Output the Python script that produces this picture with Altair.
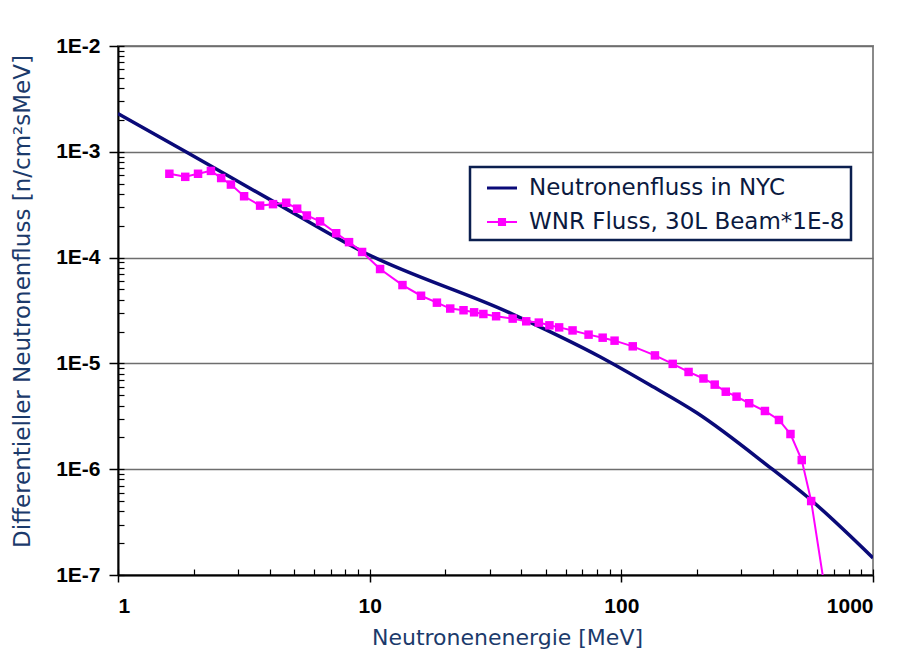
import altair as alt
import pandas as pd

NYC = "Neutronenfluss in NYC"
WNR = "WNR Fluss, 30L Beam*1E-8"

nyc_energy = [1, 1.86, 4.15, 9.42, 36.2, 82.6, 130, 200, 398, 549, 1000]
nyc_flux = [2.3e-3, 1.0e-3, 3.38e-4, 1.13e-4, 2.99e-5, 1.15e-5, 6.25e-6, 3.4e-6,
            1.0e-6, 5.46e-7, 1.45e-7]

wnr_energy = [1.6, 1.85, 2.08, 2.34, 2.57, 2.81, 3.17, 3.67, 4.13, 4.66,
              5.15, 5.63, 6.35, 7.36, 8.28, 9.33, 11.0, 13.5, 16.0, 18.5,
              20.9, 23.6, 26.0, 28.3, 31.8, 37.0, 41.9, 47.0, 51.8, 56.6,
              64.0, 74.1, 84.3, 94.0, 111, 136, 160, 185, 212, 235,
              260, 287, 322, 372, 423, 470, 521, 568, 660]
wnr_flux = [6.2e-4, 5.8e-4, 6.2e-4, 6.6e-4, 5.65e-4, 4.9e-4, 3.8e-4, 3.1e-4, 3.2e-4, 3.3e-4,
            2.9e-4, 2.5e-4, 2.2e-4, 1.7e-4, 1.4e-4, 1.13e-4, 7.8e-5, 5.5e-5, 4.36e-5, 3.75e-5,
            3.3e-5, 3.18e-5, 3.04e-5, 2.93e-5, 2.79e-5, 2.65e-5, 2.5e-5, 2.43e-5, 2.29e-5, 2.19e-5,
            2.05e-5, 1.87e-5, 1.75e-5, 1.64e-5, 1.45e-5, 1.19e-5, 9.9e-6, 8.3e-6, 7.2e-6, 6.3e-6,
            5.4e-6, 4.85e-6, 4.2e-6, 3.55e-6, 2.92e-6, 2.15e-6, 1.22e-6, 5.0e-7, 5.0e-8]

x_major = [1, 10, 100, 1000]
y_major = [1e-7, 1e-6, 1e-5, 1e-4, 1e-3, 1e-2]
x_all = [m * 10 ** k for k in range(0, 3) for m in range(1, 10)] + [1000]
y_all = [m * 10.0 ** k for k in range(-7, -2) for m in range(1, 10)] + [1e-2]

NAVY = "#0a0a78"
PINK = "#ff00ff"
TITLE_COLOR = "#1b3a6b"

df_nyc = pd.DataFrame({"E": nyc_energy, "F": nyc_flux})
df_wnr = pd.DataFrame({"E": wnr_energy, "F": wnr_flux})
df_leg = pd.DataFrame({"E": [None, None], "F": [None, None], "series": [NYC, WNR]})

xs = alt.Scale(type="log", domain=[1, 1000], nice=False)
ys = alt.Scale(type="log", domain=[1e-7, 1e-2], nice=False)

lab = dict(labelFont="Liberation Sans", labelFontWeight="bold", labelFontSize=21,
           labelColor="black")

x_main = alt.Axis(values=x_major, format="d", orient="bottom", tickSize=7, tickWidth=1.5,
                  tickColor="black", domainColor="black", domainWidth=2, labelPadding=13,
                  grid=False, title="Neutronenenergie [MeV]", titleFont="DejaVu Sans",
                  titleFontSize=22, titleFontWeight="normal", titleColor=TITLE_COLOR,
                  titleX=389, titleY=62, titleBaseline="middle", **lab)
y_main = alt.Axis(values=y_major, orient="left", tickSize=9, tickWidth=1.5,
                  tickColor="black", domainColor="black", domainWidth=2, labelPadding=9,
                  labelExpr="'1E-' + round(-log(datum.value) / LN10)",
                  grid=True, gridColor="#6e6e6e", gridWidth=1.5,
                  title="Differentieller Neutronenfluss [n/cm²sMeV]", titleFont="DejaVu Sans",
                  titleFontSize=23, titleFontWeight="normal", titleColor=TITLE_COLOR,
                  titleX=-96, titleY=255, titleBaseline="middle", titleAngle=-90, **lab)

x_minor = alt.Axis(values=x_all, orient="bottom", offset=-6, tickSize=6, tickWidth=1.2,
                   tickColor="black", domain=False, labels=False, grid=False, title=None)
y_minor = alt.Axis(values=y_all, orient="left", offset=-6, tickSize=6, tickWidth=1.2,
                   tickColor="black", domain=False, labels=False, grid=False, title=None)

nyc_line = alt.Chart(df_nyc).mark_line(strokeWidth=3.5, clip=True, color=NAVY,
                                       interpolate="monotone").encode(
    x=alt.X("E:Q", scale=xs, axis=x_main),
    y=alt.Y("F:Q", scale=ys, axis=y_main),
)

wnr_line = alt.Chart(df_wnr).mark_line(strokeWidth=2, clip=True, color=PINK).encode(
    x=alt.X("E:Q", scale=xs, axis=x_minor),
    y=alt.Y("F:Q", scale=ys, axis=y_minor),
)

wnr_pts = alt.Chart(df_wnr).mark_point(shape="square", filled=True, size=72, opacity=1,
                                       clip=True, color=PINK).encode(
    x=alt.X("E:Q", scale=xs, axis=None),
    y=alt.Y("F:Q", scale=ys, axis=None),
)

leg = alt.Legend(
    title=None, orient="none", legendX=352, legendY=121, direction="vertical",
    symbolSize=900, symbolStrokeWidth=0, labelFont="DejaVu Sans", labelFontSize=23,
    labelColor="#0b1a3f", labelOffset=12, rowPadding=7, padding=6, symbolOffset=11,
    strokeColor="#0b1f4f", fillColor="white", labelLimit=500)

legend_layer = alt.Chart(df_leg).mark_point(filled=True, opacity=1).encode(
    x=alt.X("E:Q", scale=xs, axis=None),
    y=alt.Y("F:Q", scale=ys, axis=None),
    color=alt.Color("series:N", scale=alt.Scale(domain=[NYC, WNR], range=[NAVY, PINK]),
                    legend=leg),
    shape=alt.Shape("series:N", scale=alt.Scale(domain=[NYC, WNR], range=[
        "M-1,-0.1H1V0.1H-1Z",
        "M-1,-0.06H1V0.06H-1Z M-0.27,-0.27H0.27V0.27H-0.27Z",
    ]), legend=leg),
)

chart = alt.layer(nyc_line, wnr_line, wnr_pts, legend_layer).resolve_axis(
    x="independent", y="independent"
).properties(
    width=755, height=529,
    autosize=alt.AutoSizeParams(type="none"),
    padding={"left": 118, "top": 46, "right": 25, "bottom": 79},
    background="white",
).configure_view(stroke="#8a8a8a", strokeWidth=2).configure_legend(strokeWidth=2.5)

chart.save("out.html", embed_options={"renderer": "svg", "actions": False})
